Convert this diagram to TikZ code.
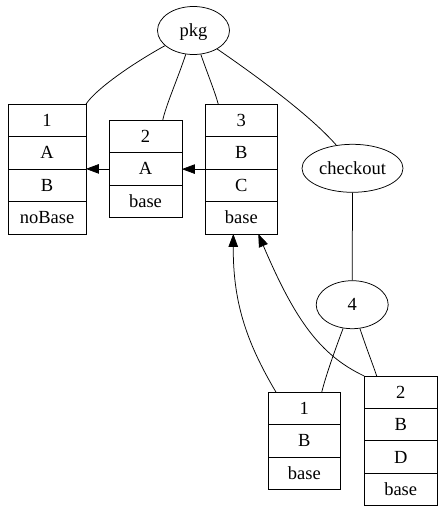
\documentclass[tikz,border=0pt]{standalone}
\usepackage{fontspec}
\setmainfont{Liberation Serif}
\usetikzlibrary{shapes.geometric,arrows.meta}
\begin{document}
\begin{tikzpicture}[x=1pt,y=-1pt,
  every node/.style={font=\fontsize{18.5}{20}\selectfont},
  field/.style={minimum height=32pt, inner sep=0pt,
                text height=13pt, text depth=1pt, anchor=north},
  oval/.style={draw, ellipse, line width=0.75pt, minimum width=72pt,
               minimum height=48pt, inner sep=0pt, text height=12pt, text depth=0pt},
  frame/.style={line width=0.75pt},
  link/.style={line width=0.75pt},
  ref/.style={line width=0.75pt, -{Triangle[length=13pt,width=9.5pt]}}]
\useasboundingbox (0,0) rectangle (443,511);

% ellipses
\node[oval] (pkg) at (193.5,30.5) {pkg};
\node[oval, minimum width=101pt] (co) at (352.5,168.3) {checkout};
\node[oval] (four) at (352.2,304.7) {4};

% record 1
\node[field, minimum width=77.4pt] (r1) at (47,104.3) {1};
\node[field, minimum width=77.4pt] (r1a) at (r1.south) {A};
\node[field, minimum width=77.4pt] (r1b) at (r1a.south) {B};
\node[field, minimum width=77.4pt] (r1n) at (r1b.south) {noBase};
\draw[frame] (r1.north west) rectangle (r1n.south east);
\draw[frame] (r1.south west) -- (r1.south east)
             (r1a.south west) -- (r1a.south east)
             (r1b.south west) -- (r1b.south east);

% record 2
\node[field, minimum width=72.4pt] (r2) at (145.5,120.3) {2};
\node[field, minimum width=72.4pt] (r2a) at (r2.south) {A};
\node[field, minimum width=72.4pt] (r2s) at (r2a.south) {base};
\draw[frame] (r2.north west) rectangle (r2s.south east);
\draw[frame] (r2.south west) -- (r2.south east)
             (r2a.south west) -- (r2a.south east);

% record 3
\node[field, minimum width=72pt] (r3) at (241.3,104.3) {3};
\node[field, minimum width=72pt] (r3b) at (r3.south) {B};
\node[field, minimum width=72pt] (r3c) at (r3b.south) {C};
\node[field, minimum width=72pt] (r3s) at (r3c.south) {base};
\draw[frame] (r3.north west) rectangle (r3s.south east);
\draw[frame] (r3.south west) -- (r3.south east)
             (r3b.south west) -- (r3b.south east)
             (r3c.south west) -- (r3c.south east);

% checkout record 1
\node[field, minimum width=72pt] (c1) at (304.3,392.3) {1};
\node[field, minimum width=72pt] (c1b) at (c1.south) {B};
\node[field, minimum width=72pt] (c1s) at (c1b.south) {base};
\draw[frame] (c1.north west) rectangle (c1s.south east);
\draw[frame] (c1.south west) -- (c1.south east)
             (c1b.south west) -- (c1b.south east);

% checkout record 2
\node[field, minimum width=72.7pt] (c2) at (400.7,376) {2};
\node[field, minimum width=72.7pt] (c2b) at (c2.south) {B};
\node[field, minimum width=72.7pt] (c2d) at (c2b.south) {D};
\node[field, minimum width=72.7pt] (c2s) at (c2d.south) {base};
\draw[frame] (c2.north west) rectangle (c2s.south east);
\draw[frame] (c2.south west) -- (c2.south east)
             (c2b.south west) -- (c2b.south east)
             (c2d.south west) -- (c2d.south east);

% package links
\draw[link] (pkg.208) .. controls (130,65) and (95,90) .. (r1.north east);
\draw[link] (pkg.252) .. controls (178,78) and (166,105) .. ([xshift=17.2pt]r2.north);
\draw[link] (pkg.287) .. controls (208,75) and (215,92) .. ([xshift=-23pt]r3.north);
\draw[link] (pkg.322) .. controls (255,75) and (310,115) .. (co.125);
\draw[link] (co.south) -- (four.north);
\draw[link] (four.249) .. controls (335,350) and (326,375) .. ([xshift=17.4pt]c1.north);
\draw[link] (four.288) .. controls (367,350) and (372,362) .. ([xshift=-24pt]c2.north);

% base references
\draw[ref] (r2a.west) -- (r2a.west -| r1b.north east);
\draw[ref] (r3c.north west) -- (r3c.north west -| r2a.east);
\draw[ref] ([xshift=8pt]c1.north west) .. controls (245,340) and (233,300) .. ([xshift=-8pt]r3s.south);
\draw[ref] (c2.north west) .. controls (320,355) and (295,320) .. ([xshift=17pt]r3s.south);
\end{tikzpicture}
\end{document}
